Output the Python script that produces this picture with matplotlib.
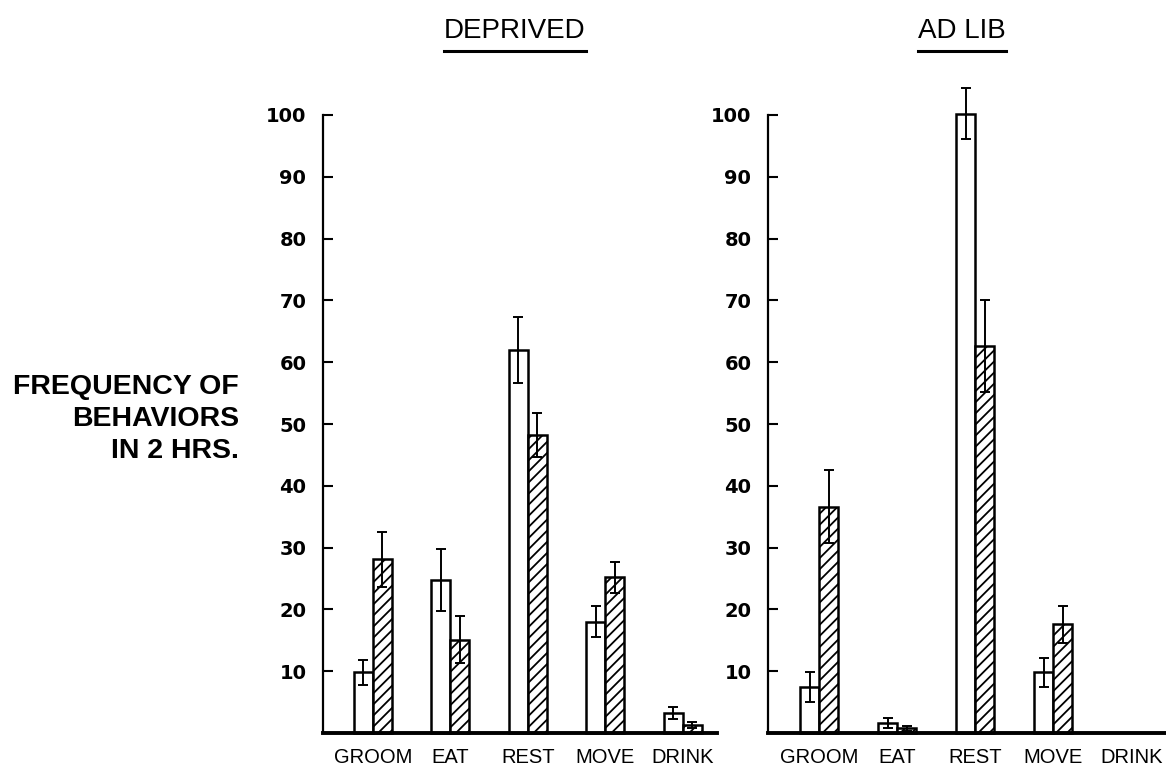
import matplotlib
matplotlib.use("Agg")
import matplotlib.pyplot as plt
from matplotlib.lines import Line2D
import numpy as np

categories = ["GROOM", "EAT", "REST", "MOVE", "DRINK"]
panels = ["DEPRIVED", "AD LIB"]

# DEPRIVED panel
dep_open = [9.8, 24.7, 62.0, 18.0, 3.2]
dep_open_err = [2.0, 5.0, 5.3, 2.5, 1.0]
dep_hatch = [28.1, 15.1, 48.2, 25.2, 1.3]
dep_hatch_err = [4.4, 3.8, 3.5, 2.5, 0.5]

# AD LIB panel
adl_open = [7.4, 1.6, 100.2, 9.8, 0.0]
adl_open_err = [2.4, 0.8, 4.1, 2.4, 0.0]
adl_hatch = [36.6, 0.8, 62.6, 17.6, 0.0]
adl_hatch_err = [5.9, 0.4, 7.4, 3.0, 0.0]

yticks = [10, 20, 30, 40, 50, 60, 70, 80, 90, 100]
ylabel = "FREQUENCY OF\nBEHAVIORS\nIN 2 HRS."

plt.rcParams['hatch.linewidth'] = 1.3
plt.rcParams['hatch.color'] = 'black'

W, H = 1166, 769
fig = plt.figure(figsize=(W / 100, H / 100), dpi=100)

sans = ['Liberation Sans', 'DejaVu Sans']

ax1 = fig.add_axes([323 / W, 1 - 733 / H, (717 - 323) / W, (733 - 115) / H])
ax2 = fig.add_axes([768 / W, 1 - 733 / H, (W - 768) / W, (733 - 115) / H])

data = [(dep_open, dep_open_err, dep_hatch, dep_hatch_err),
        (adl_open, adl_open_err, adl_hatch, adl_hatch_err)]

bw = 0.245
x = np.arange(len(categories))
for ax, (o, oe, h, he), xl in zip([ax1, ax2], data, [(-0.645, 4.44), (-0.655, 4.445)]):
    o = np.array(o); h = np.array(h)
    oe = np.array(oe); he = np.array(he)
    mo = o > 0
    mh = h > 0
    b1 = ax.bar(x[mo] - bw / 2, o[mo], width=bw, facecolor='white', edgecolor='black',
                linewidth=1.8, zorder=2)
    b2 = ax.bar(x[mh] + bw / 2, h[mh], width=bw, facecolor='white', edgecolor='black',
                linewidth=1.8, hatch='///', zorder=2)
    for p in list(b1) + list(b2):
        p.set_clip_on(False)
    ax.errorbar(x[mo] - bw / 2, o[mo], yerr=oe[mo], fmt='none', ecolor='black',
                elinewidth=1.4, capsize=3.6, capthick=1.4, zorder=3, clip_on=False)
    ax.errorbar(x[mh] + bw / 2, h[mh], yerr=he[mh], fmt='none', ecolor='black',
                elinewidth=1.4, capsize=3.6, capthick=1.4, zorder=3, clip_on=False)
    ax.set_xlim(*xl)
    ax.set_ylim(0, 100)
    ax.spines['top'].set_visible(False)
    ax.spines['right'].set_visible(False)
    ax.spines['left'].set_linewidth(1.6)
    ax.spines['bottom'].set_linewidth(2.8)
    ax.spines['bottom'].set_zorder(4)
    ax.set_yticks(yticks)
    ax.set_yticklabels([str(t) for t in yticks], fontfamily='DejaVu Sans',
                       fontweight='bold', fontsize=14)
    ax.tick_params(axis='y', direction='in', length=7, width=1.5, pad=12)
    ax.set_xticks(x)
    ax.set_xticklabels(categories, fontfamily=sans, fontsize=14.5)
    ax.tick_params(axis='x', length=0, pad=11)
    ax.patch.set_alpha(0)

fig.text(239 / W, 1 - 419 / H, ylabel, ha='right', va='center', multialignment='right',
         fontfamily=sans, fontweight='bold', fontsize=20.5, linespacing=1.3)

titles = []
for name, cx in zip(panels, [515, 962]):
    t = fig.text(cx / W, 1 - 31 / H, name, ha='center', va='center',
                 fontfamily=sans, fontsize=20)
    titles.append(t)

fig.canvas.draw()
r = fig.canvas.get_renderer()
for t in titles:
    bb = t.get_window_extent(r)
    yline = (bb.y0 - 7) / H
    fig.add_artist(Line2D([bb.x0 / W, bb.x1 / W], [yline, yline],
                          transform=fig.transFigure, color='black', linewidth=2.2))

fig.savefig("out.png", dpi=100)
